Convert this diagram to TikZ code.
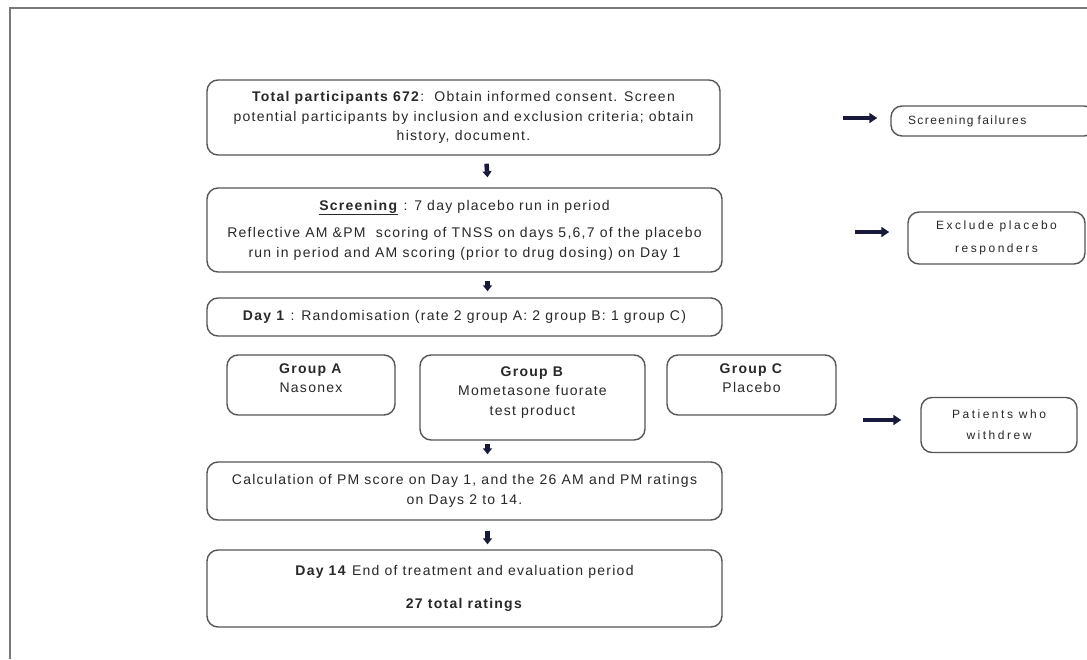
\documentclass[tikz,border=0pt]{standalone}
\usepackage{fontspec}
\setmainfont{Liberation Sans}
\newfontfamily\flowfont[LetterSpace=9]{Liberation Sans}
\newfontfamily\sidefont[LetterSpace=21]{Liberation Sans}
\newfontfamily\failfont[LetterSpace=12]{Liberation Sans}
\usetikzlibrary{positioning, arrows.meta, calc}
\definecolor{BoxGray}{RGB}{85, 85, 85}
\definecolor{TextGray}{RGB}{40, 40, 40}
\definecolor{ArrowNavy}{RGB}{25, 25, 60}
\definecolor{FrameGray}{RGB}{120, 120, 120}

\begin{document}
\begin{tikzpicture}[x=1pt, y=-1pt,
    flowbox/.style={draw=BoxGray, line width=1.4pt, rounded corners=11pt, fill=white,
                    text=TextGray, align=center, inner sep=2pt,
                    font=\flowfont\fontsize{14}{19.5}\selectfont},
    sidebox/.style={flowbox, font=\sidefont\fontsize{12}{23}\selectfont},
    downarrow/.style={ArrowNavy, line width=4.5pt, -{Triangle[length=6pt, width=9pt]}},
    sidearrow/.style={ArrowNavy, line width=3.5pt, -{Triangle[length=8pt, width=10pt]}}]
    \useasboundingbox (0,0) rectangle (1087,659);
    % frame of the page
    \draw[FrameGray, line width=1.3pt] (10,659) |- (1087,8);

    % main column
    \node[flowbox, minimum width=513pt, minimum height=75pt] (consent) at (463.5,117.5)
        {\textbf{Total participants 672}:\ \ Obtain informed consent. Screen\\
         potential participants by inclusion and exclusion criteria; obtain\\
         history, document.};
    \node[flowbox, minimum width=515pt, minimum height=84pt] (runin) at (464.5,230)
        {\underline{\textbf{Screening}} : 7 day placebo run in period\\[8pt]
         Reflective AM \&PM\ \ scoring of TNSS on days 5,6,7 of the placebo\\
         run in period and AM scoring (prior to drug dosing) on Day 1};
    \node[flowbox, minimum width=515pt, minimum height=38pt] (random) at (464.5,317)
        {\textbf{Day 1} : Randomisation (rate 2 group A: 2 group B: 1 group C)};

    % treatment groups
    \node[flowbox, minimum width=168pt, minimum height=60pt] (groupA) at (311,385)
        {\textbf{Group A}\\ Nasonex\\[-6pt]};
    \node[flowbox, minimum width=225pt, minimum height=85pt] (groupB) at (532.5,397.5)
        {\textbf{Group B}\\ Mometasone fuorate\\ test product\\[-6pt]};
    \node[flowbox, minimum width=169pt, minimum height=60pt] (groupC) at (751.5,385)
        {\textbf{Group C}\\ Placebo\\[-6pt]};

    \node[flowbox, minimum width=515pt, minimum height=58pt] (calc) at (464.5,491)
        {Calculation of PM score on Day 1, and the 26 AM and PM ratings\\
         on Days 2 to 14.};
    \node[flowbox, minimum width=515pt, minimum height=77pt] (endday) at (464.5,588.5)
        {\textbf{Day 14} End of treatment and evaluation period\\[13pt]
         \textbf{27 total ratings}};

    % side boxes
    \node[sidebox, font=\failfont\fontsize{12}{17}\selectfont, minimum width=200pt,
          minimum height=30pt, text width=170pt, align=left, inner xsep=17pt]
          (fails) at (993,121) {Screening failures};
    \node[sidebox, minimum width=177pt, minimum height=52pt] (responders) at (996.5,238)
        {Exclude placebo\\ responders};
    \node[sidebox, minimum width=156pt, minimum height=55pt, font=\sidefont\fontsize{12}{21}\selectfont]
          (withdrew) at (999,425) {Patients who\\ withdrew};

    % down arrows
    \draw[downarrow] ([xshift=23pt, yshift=-8pt]consent.south) -- ([xshift=23pt, yshift=10pt]runin.north);
    \draw[downarrow] ([xshift=23pt, yshift=-8pt]runin.south) -- ([xshift=23pt, yshift=6pt]random.north);
    \draw[downarrow] ([xshift=-45pt, yshift=-3pt]groupB.south) -- ([xshift=23pt, yshift=7pt]calc.north);
    \draw[downarrow] ([xshift=23pt, yshift=-10pt]calc.south) -- ([xshift=23pt, yshift=5pt]endday.north);

    % side arrows
    \coordinate (failstart) at (843,118);
    \coordinate (respstart) at (855,232);
    \coordinate (withstart) at (863,420);
    \draw[sidearrow] (failstart) -- ([xshift=-13pt]fails.west |- failstart);
    \draw[sidearrow] (respstart) -- ([xshift=-18pt]responders.west |- respstart);
    \draw[sidearrow] (withstart) -- ([xshift=-19pt]withdrew.west |- withstart);
\end{tikzpicture}
\end{document}
